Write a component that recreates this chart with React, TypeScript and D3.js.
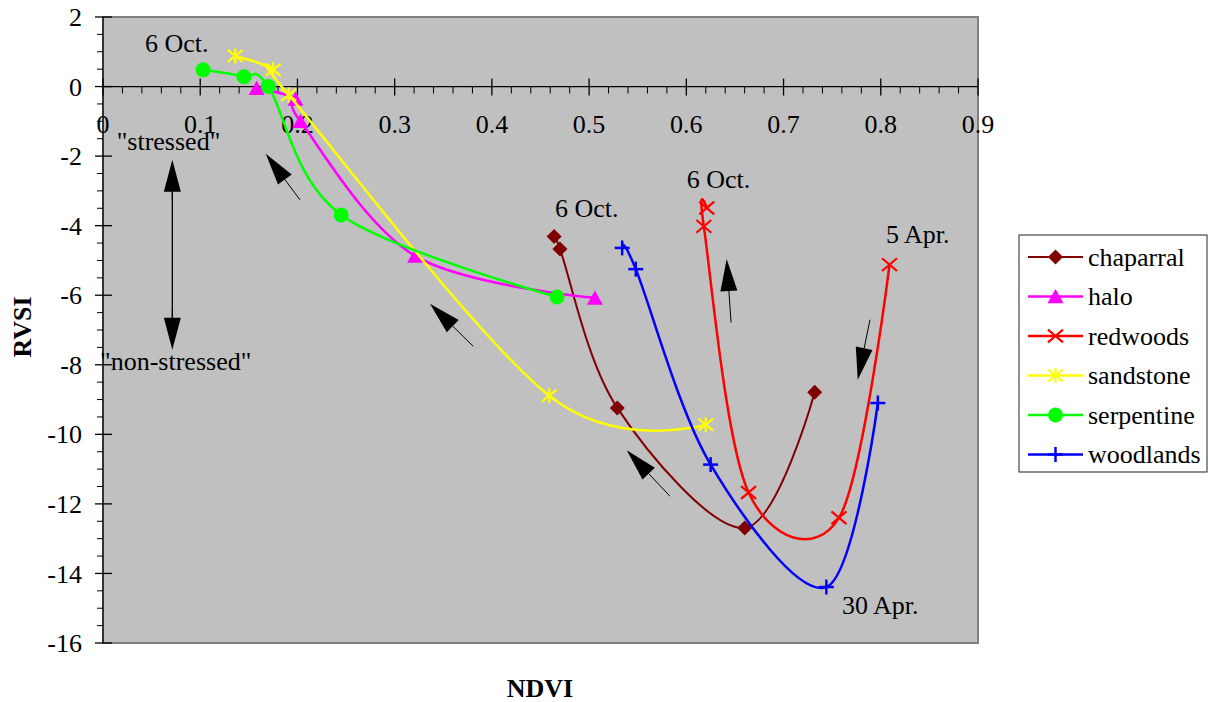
import React from "react";
import * as d3 from "d3";

// ---- data ----
const seriesNames = ["chaparral", "halo", "redwoods", "sandstone", "serpentine", "woodlands"];
const seriesColors = ["#800000", "#FF00FF", "#FF0000", "#FFFF00", "#00FF00", "#0000FF"];
const seriesMarkers = ["diamond", "triangle", "x", "asterisk", "circle", "plus"];

const chaparralNDVI = [0.732, 0.660, 0.529, 0.470, 0.464];
const chaparralRVSI = [-8.79, -12.69, -9.24, -4.67, -4.31];
const haloNDVI = [0.506, 0.321, 0.203, 0.198, 0.158];
const haloRVSI = [-6.08, -4.87, -1.0, -0.36, -0.05];
const redwoodsNDVI = [0.809, 0.757, 0.664, 0.618, 0.621];
const redwoodsRVSI = [-5.12, -12.40, -11.67, -4.02, -3.49];
const sandstoneNDVI = [0.620, 0.459, 0.191, 0.175, 0.136];
const sandstoneRVSI = [-9.72, -8.89, -0.24, 0.48, 0.88];
const serpentineNDVI = [0.467, 0.245, 0.170, 0.145, 0.103];
const serpentineRVSI = [-6.05, -3.69, 0.0, 0.28, 0.48];
const woodlandsNDVI = [0.797, 0.744, 0.625, 0.548, 0.534];
const woodlandsRVSI = [-9.10, -14.39, -10.87, -5.25, -4.64];

const xTickValues = [0, 0.1, 0.2, 0.3, 0.4, 0.5, 0.6, 0.7, 0.8, 0.9];
const yTickValues = [2, 0, -2, -4, -6, -8, -10, -12, -14, -16];

// annotations in data coordinates
const labelTexts = ["6 Oct.", "6 Oct.", "6 Oct.", "5 Apr.", "30 Apr.", "\"stressed\"", "\"non-stressed\""];
const labelNDVI = [0.0432, 0.4649, 0.6004, 0.8054, 0.7601, 0.0141, -0.003];
const labelRVSI = [1.006, -3.764, -2.92, -4.5, -15.16, -1.819, -8.14];

const arrowTailNDVI = [0.2026, 0.3809, 0.6460, 0.7889, 0.5832];
const arrowTailRVSI = [-3.256, -7.471, -6.782, -6.704, -11.78];
const arrowTipNDVI = [0.1674, 0.3363, 0.6415, 0.7763, 0.5387];
const arrowTipRVSI = [-1.934, -6.244, -4.960, -8.428, -10.46];

const dblArrowNDVI = 0.0713;
const dblArrowRVSI = [-2.106, -7.566];

const allNDVI = [chaparralNDVI, haloNDVI, redwoodsNDVI, sandstoneNDVI, serpentineNDVI, woodlandsNDVI];
const allRVSI = [chaparralRVSI, haloRVSI, redwoodsRVSI, sandstoneRVSI, serpentineRVSI, woodlandsRVSI];

const W = 1208, H = 702;
const FONT = "'Liberation Serif', 'Times New Roman', serif";

function Marker({ type, x, y, color, s = 1 }: { type: string; x: number; y: number; color: string; s?: number }) {
  const r = 7.5 * s;
  switch (type) {
    case "diamond":
      return <path d={`M${x},${y - r} L${x + r},${y} L${x},${y + r} L${x - r},${y} Z`} fill={color} />;
    case "triangle":
      return <path d={`M${x},${y - r} L${x + r + 0.5},${y + r * 0.9} L${x - r - 0.5},${y + r * 0.9} Z`} fill={color} />;
    case "x":
      return (
        <g stroke={color} strokeWidth={2.2}>
          <line x1={x - r} y1={y - r * 0.85} x2={x + r} y2={y + r * 0.85} />
          <line x1={x - r} y1={y + r * 0.85} x2={x + r} y2={y - r * 0.85} />
        </g>
      );
    case "asterisk":
      return (
        <g stroke={color} strokeWidth={2.2}>
          <line x1={x - r} y1={y - r * 0.8} x2={x + r} y2={y + r * 0.8} />
          <line x1={x - r} y1={y + r * 0.8} x2={x + r} y2={y - r * 0.8} />
          <line x1={x} y1={y - r} x2={x} y2={y + r} />
        </g>
      );
    case "circle":
      return <circle cx={x} cy={y} r={r} fill={color} />;
    case "plus":
      return (
        <g stroke={color} strokeWidth={2.5}>
          <line x1={x - r} y1={y} x2={x + r} y2={y} />
          <line x1={x} y1={y - r} x2={x} y2={y + r} />
        </g>
      );
  }
  return null;
}

function Arrow({ x1, y1, x2, y2, len = 32, w = 17, sw = 1 }: any) {
  const dx = x2 - x1, dy = y2 - y1;
  const L = Math.hypot(dx, dy);
  const ux = dx / L, uy = dy / L;
  const bx = x2 - ux * len, by = y2 - uy * len;
  const px = -uy * w / 2, py = ux * w / 2;
  return (
    <g>
      <line x1={x1} y1={y1} x2={bx} y2={by} stroke="#000" strokeWidth={sw} />
      <path d={`M${x2},${y2} L${bx + px},${by + py} L${bx - px},${by - py} Z`} fill="#000" />
    </g>
  );
}

export default function App() {
  const x = d3.scaleLinear().domain([0, 0.9]).range([103, 978]);
  const y = d3.scaleLinear().domain([-16, 2]).range([643, 17]);
  const x0 = x(0), y0 = y(0);

  const line = d3
    .line<[number, number]>()
    .x((d) => x(d[0]))
    .y((d) => y(d[1]))
    .curve(d3.curveCardinal.tension(0));

  const xMinor = d3.range(0, 0.9001, 0.02).filter((v) => Math.abs(Math.round(v * 10) - v * 10) > 1e-6);
  const yMinor = d3.range(-16, 2.001, 0.5).filter((v) => Math.abs(v % 2) > 1e-6);

  const dblX = x(dblArrowNDVI);
  const dblTop = y(dblArrowRVSI[0]);
  const dblBot = y(dblArrowRVSI[1]);

  return (
    <svg width={W} height={H} style={{ position: "absolute", left: 0, top: 0 }} fontFamily={FONT}>
      <rect x={0} y={0} width={W} height={H} fill="#fff" />
      {/* plot area */}
      <rect x={x0} y={y(2)} width={x(0.9) - x0} height={y(-16) - y(2)} fill="#C0C0C0" stroke="#808080" strokeWidth={2} />
      {/* y axis */}
      <line x1={x0} y1={y(2)} x2={x0} y2={y(-16)} stroke="#333" strokeWidth={2} />
      {yTickValues.map((v) => (
        <g key={"yt" + v}>
          <line x1={x0 - 8} x2={x0 + 9} y1={y(v)} y2={y(v)} stroke="#000" strokeWidth={1.3} />
          <text x={82} y={y(v)} dy="0.35em" textAnchor="end" fontSize={26} fill="#000">
            {v}
          </text>
        </g>
      ))}
      {yMinor.map((v) => (
        <line key={"ym" + v} x1={x0 - 6} x2={x0} y1={y(v)} y2={y(v)} stroke="#000" strokeWidth={1} />
      ))}
      {/* x axis at RVSI = 0 */}
      <line x1={x0} y1={y0} x2={x(0.9)} y2={y0} stroke="#000" strokeWidth={1.3} />
      {xTickValues.map((v) => (
        <g key={"xt" + v}>
          <line x1={x(v)} x2={x(v)} y1={y0 - 8} y2={y0 + 9} stroke="#000" strokeWidth={1.3} />
          <text x={x(v)} y={y0 + 46} textAnchor="middle" fontSize={26} fill="#000">
            {v}
          </text>
        </g>
      ))}
      {xMinor.map((v) => (
        <line key={"xm" + v} x1={x(v)} x2={x(v)} y1={y0} y2={y0 + 7} stroke="#000" strokeWidth={1} />
      ))}

      {/* annotations: double arrow */}
      <line x1={dblX} x2={dblX} y1={dblTop + 30} y2={dblBot - 30} stroke="#000" strokeWidth={1.3} />
      <Arrow x1={dblX} y1={dblTop + 40} x2={dblX} y2={dblTop} />
      <Arrow x1={dblX} y1={dblBot - 40} x2={dblX} y2={dblBot} />
      {arrowTailNDVI.map((_, i) => (
        <Arrow
          key={"ar" + i}
          x1={x(arrowTailNDVI[i])}
          y1={y(arrowTailRVSI[i])}
          x2={x(arrowTipNDVI[i])}
          y2={y(arrowTipRVSI[i])}
        />
      ))}

      {/* series */}
      {seriesNames.map((name, i) => {
        const pts: [number, number][] = allNDVI[i].map((v, j) => [v, allRVSI[i][j]]);
        return (
          <g key={name}>
            <path d={line(pts) || ""} fill="none" stroke={seriesColors[i]} strokeWidth={i === 0 ? 2 : 2.5} />
            {pts.map((p, j) => (
              <Marker key={j} type={seriesMarkers[i]} x={x(p[0])} y={y(p[1])} color={seriesColors[i]} />
            ))}
          </g>
        );
      })}

      {labelTexts.map((t, i) => (
        <text key={"lb" + i} x={x(labelNDVI[i])} y={y(labelRVSI[i])} fontSize={26} fill="#000">
          {t}
        </text>
      ))}

      {/* axis titles */}
      <text x={540} y={697} textAnchor="middle" fontSize={26} fontWeight="bold" fill="#000">
        NDVI
      </text>
      <text transform="translate(31,327) rotate(-90)" textAnchor="middle" fontSize={26} fontWeight="bold" fill="#000">
        RVSI
      </text>

      {/* legend */}
      <rect x={1019} y={235} width={188} height={237} fill="#fff" stroke="#222" strokeWidth={1} />
      {seriesNames.map((name, i) => {
        const ly = 257 + i * 39.5;
        return (
          <g key={"lg" + name}>
            <line x1={1028} x2={1083} y1={ly} y2={ly} stroke={seriesColors[i]} strokeWidth={i === 0 ? 2 : 2.5} />
            <Marker type={seriesMarkers[i]} x={1055.5} y={ly} color={seriesColors[i]} />
            <text x={1088} y={ly} dy="0.33em" fontSize={26} fill="#000">
              {name}
            </text>
          </g>
        );
      })}
    </svg>
  );
}
